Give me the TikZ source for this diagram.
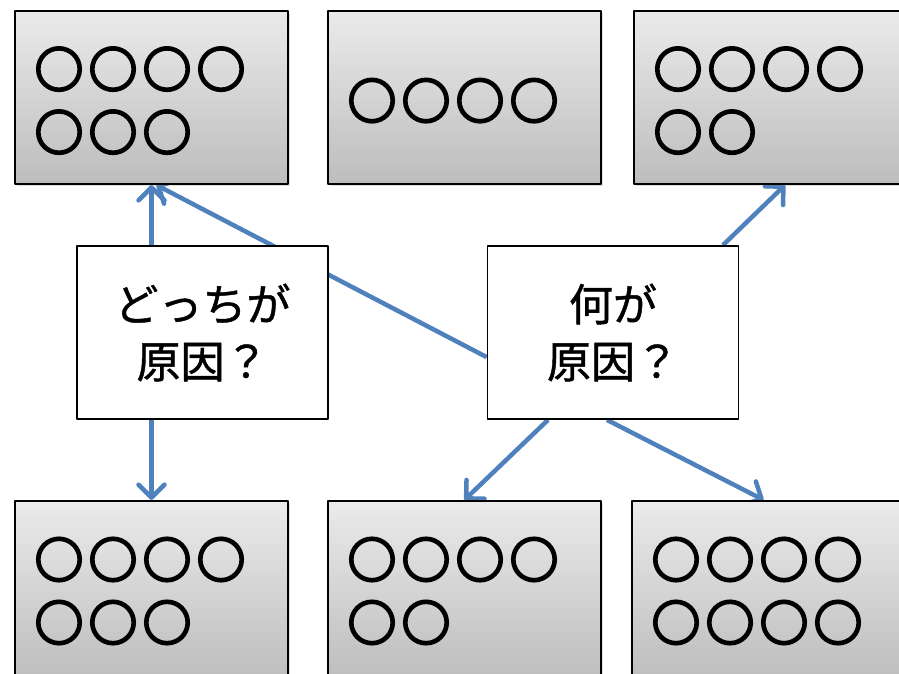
\documentclass[tikz,border=0pt]{standalone}
\usepackage{fontspec}
\newfontfamily\jpfont{Noto Sans CJK JP}
\usetikzlibrary{arrows.meta,shadows}
\pgfdeclarelayer{background}
\pgfsetlayers{background,main}
\definecolor{linkblue}{HTML}{4F81BD}
\tikzset{
  graybox/.style={draw=black, line width=2.2pt, top color=black!8, bottom color=black!26,
    minimum width=273pt, minimum height=173pt, inner xsep=20pt, text width=233pt, align=left,
    font=\jpfont\fontsize{48}{63}\selectfont\addfontfeature{LetterSpace=12.5,FakeBold=6},
    drop shadow={opacity=0.25, shadow xshift=2pt, shadow yshift=-2pt}},
  topbox/.style={graybox, execute at begin node={\rule{0pt}{46pt}}},
  qbox/.style={draw=black, line width=1.8pt, fill=white, minimum width=251pt,
    minimum height=173pt, align=center, font=\jpfont\fontsize{44}{57}\selectfont\addfontfeature{FakeBold=1}},
  link/.style={linkblue, line width=4.5pt, ->}
}
\begin{document}
\begin{tikzpicture}[x=1pt,y=-1pt,>={Straight Barb[length=13pt,width=26pt,round]}, line join=round, line cap=round]
\useasboundingbox (0,0) rectangle (899,674);
\def\ytop{97.5} \def\ybot{591} % box centres
% boxes
\node[topbox] (tl) at (151.5,\ytop) {○○○○\\○○○};
\node[topbox] (tm) at (464.5,\ytop) {○○○○};
\node[topbox] (tr) at (770.5,\ytop) {○○○○\\○○};
\node[graybox, minimum height=180pt] (bl) at (151.5,\ybot) {○○○○\\○○○};
\node[graybox, minimum height=180pt] (bm) at (464.5,\ybot) {○○○○\\○○};
\node[graybox, minimum height=180pt] (br) at (768.5,\ybot) {○○○○\\○○○○};
\node[qbox] (lb) at (202.5,332.5) {どっちが\\原因？};
\node[qbox] (rb) at (613,332.5) {何が\\原因？};
% arrows
\begin{pgfonlayer}{background}
\draw[link] (tl.south |- lb.north) -- (tl.south);
\draw[link] (bl.north |- lb.south) -- (bl.north);
\draw[link] (rb.191) -- ([xshift=5pt]tl.south);
\draw[link] ([xshift=110pt]rb.north) -- ([xshift=14.5pt]tr.south);
\draw[link] ([xshift=-65pt]rb.south) -- (bm.north);
\draw[link] ([xshift=-6pt]rb.south) -- ([xshift=-5pt]br.north);
\end{pgfonlayer}
\end{tikzpicture}
\end{document}
